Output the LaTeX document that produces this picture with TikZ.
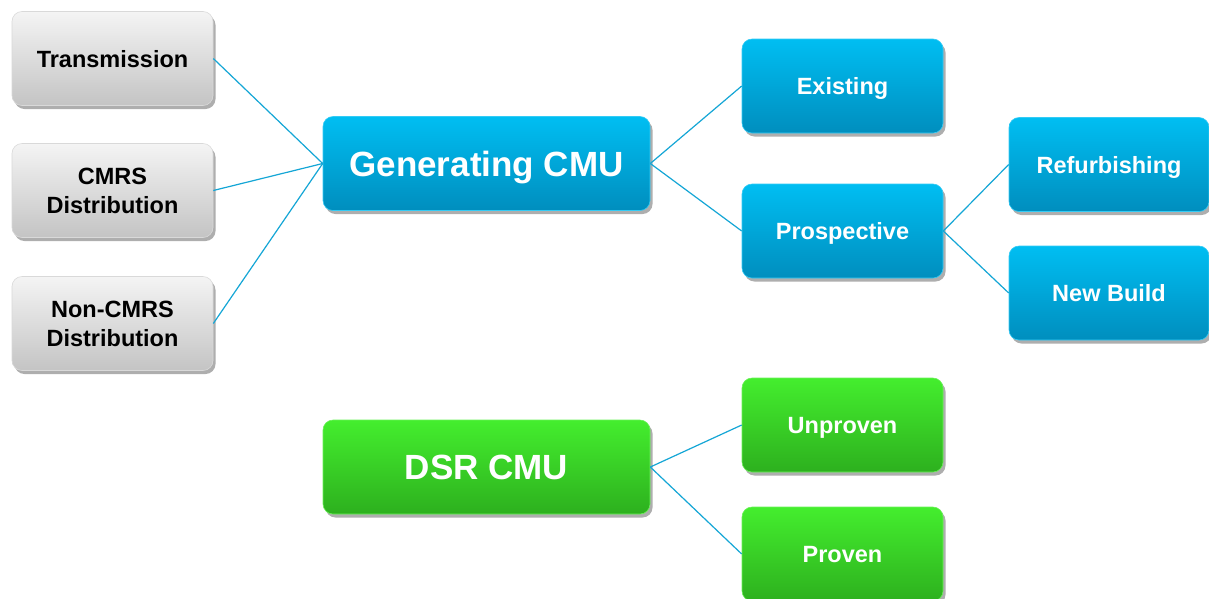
\documentclass[tikz,border=0pt]{standalone}
\usepackage{fontspec}
\setmainfont{Liberation Sans}
\usetikzlibrary{shadows}
\definecolor{linkblue}{HTML}{14A6D6}
\definecolor{greytop}{HTML}{F4F4F4}
\definecolor{greybot}{HTML}{C4C4C4}
\definecolor{bluetop}{HTML}{00BEF2}
\definecolor{bluebot}{HTML}{008EBE}
\definecolor{greentop}{HTML}{44EE2E}
\definecolor{greenbot}{HTML}{2DB01E}
\tikzset{
  box/.style={rectangle, rounded corners=10pt, minimum width=201pt, minimum height=94pt,
    align=center, font=\bfseries\fontsize{23.5}{29}\selectfont, inner sep=2pt,
    drop shadow={shadow xshift=2.5pt, shadow yshift=-3.5pt, opacity=0.45, fill=black!70}},
  oneline/.style={text height=17.5pt, text depth=0pt},
  bigbox/.style={box, minimum width=327pt, font=\bfseries\fontsize{35}{40}\selectfont,
    text height=25.5pt, text depth=0pt},
  greybox/.style={top color=greytop, bottom color=greybot, draw=white!85!black, line width=0.6pt, text=black},
  bluebox/.style={top color=bluetop, bottom color=bluebot, draw=bluetop!80!white, line width=0.6pt, text=white},
  greenbox/.style={top color=greentop, bottom color=greenbot, draw=greentop!80!white, line width=0.6pt, text=white},
  link/.style={draw=linkblue, line width=1.2pt}
}
\begin{document}
\begin{tikzpicture}[x=1pt, y=-1pt]
  \useasboundingbox (0,0) rectangle (1209,598);
  \fill[white] (0,0) rectangle (1209,598);

  % source boxes on the left
  \node[box, oneline, greybox] (trans)   at (112.5, 58.5) {Transmission};
  \node[box, greybox] (cmrs)    at (112.5, 190.5)  {CMRS\\Distribution};
  \node[box, greybox] (noncmrs) at (112.5, 323.5) {Non-CMRS\\Distribution};

  % generating branch
  \node[bigbox, bluebox] (gen)    at (486.5, 163.5) {Generating CMU};
  \node[box, oneline, bluebox]    (exist)  at (842.5, 86)    {Existing};
  \node[box, oneline, bluebox]    (prosp)  at (842.5, 231)   {Prospective};
  \node[box, oneline, bluebox, minimum width=200pt] (refurb) at (1109, 164.5) {Refurbishing};
  \node[box, oneline, bluebox, minimum width=200pt] (newb)   at (1109, 293)   {New Build};

  % demand side response branch
  \node[bigbox, greenbox] (dsr)     at (486.5, 467) {DSR CMU};
  \node[box, oneline, greenbox]    (unprov)  at (842.5, 425) {Unproven};
  \node[box, oneline, greenbox]    (prov)    at (842.5, 554) {Proven};

  % connectors
  \draw[link] (trans.east)   -- (gen.west);
  \draw[link] (cmrs.east)    -- (gen.west);
  \draw[link] (noncmrs.east) -- (gen.west);
  \draw[link] (gen.east)     -- (exist.west);
  \draw[link] (gen.east)     -- (prosp.west);
  \draw[link] (prosp.east)   -- (refurb.west);
  \draw[link] (prosp.east)   -- (newb.west);
  \draw[link] (dsr.east)     -- (unprov.west);
  \draw[link] (dsr.east)     -- (prov.west);
\end{tikzpicture}
\end{document}
